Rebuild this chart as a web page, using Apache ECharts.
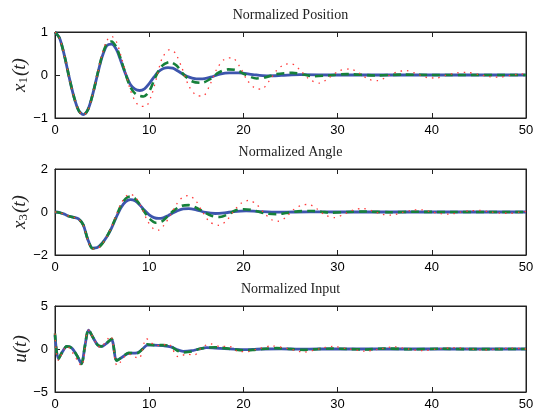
<!DOCTYPE html>
<html>
<head>
<meta charset="utf-8">
<script src="https://cdn.jsdelivr.net/npm/echarts@6/dist/echarts.min.js"></script>
<style>
  html, body { margin: 0; padding: 0; background: #fff; }
  #main { width: 534px; height: 416px; }
</style>
</head>
<body>
<div id="main"></div>
<script>
// panel titles and y labels
var titles = ['Normalized Position', 'Normalized Angle', 'Normalized Input'];
var yNames = [['x', '1'], ['x', '3'], ['u', '']];
var yRanges = [[-1, 1, 1], [-2, 2, 2], [-5, 5, 5]];
var xTicks = [0, 10, 20, 30, 40, 50];

// x1(t)
var blue1 = [[0,1],[0.5,0.85],[1,0.45],[1.5,-0.05],[2,-0.5],[2.5,-0.82],[3,-0.92],[3.5,-0.8],[4,-0.45],[4.5,0],[5,0.42],[5.5,0.68],[6,0.72],[6.5,0.6],[7,0.32],[7.5,0.02],[8,-0.22],[8.5,-0.33],[9,-0.36],[9.5,-0.32],[10,-0.2],[10.5,-0.05],[11,0.08],[11.5,0.15],[12,0.17],[12.5,0.16],[13,0.1],[14,-0.03],[15,-0.09],[15.5,-0.09],[16.5,-0.05],[17.5,0.02],[18.5,0.05],[19.5,0.05],[21,0.01],[22.5,-0.02],[24,-0.01],[26,0.01],[30,0],[50,0]];
var green1 = [[0,1],[0.5,0.85],[1,0.45],[1.5,-0.05],[2,-0.5],[2.5,-0.82],[3,-0.93],[3.5,-0.81],[4,-0.45],[4.5,0.01],[5,0.45],[5.5,0.72],[6,0.78],[6.5,0.65],[7,0.36],[7.5,0.02],[8,-0.28],[8.6,-0.45],[9.4,-0.5],[10,-0.38],[10.6,-0.08],[11.3,0.2],[12.2,0.3],[12.9,0.22],[13.7,0],[14.6,-0.15],[15.6,-0.18],[16.5,-0.09],[17.4,0.06],[18.4,0.13],[19.2,0.12],[20.2,0.01],[21.4,-0.08],[22.4,-0.05],[23.5,0.02],[25.2,0.05],[26.4,0.01],[27.5,-0.03],[29,-0.01],[31,0.02],[34,-0.01],[37,0.01],[40,0],[50,0]];
var red1 = [[0,1],[0.5,0.85],[1,0.45],[1.5,-0.05],[2,-0.5],[2.5,-0.82],[3,-0.93],[3.5,-0.82],[4,-0.45],[4.5,0.02],[5,0.48],[5.5,0.8],[6,0.9],[6.5,0.78],[7,0.45],[7.5,0.05],[8,-0.35],[8.5,-0.6],[9,-0.72],[9.6,-0.73],[10.2,-0.5],[10.8,-0.05],[11.4,0.4],[12.2,0.59],[12.8,0.5],[13.5,0.15],[14.2,-0.25],[15,-0.47],[15.7,-0.49],[16.4,-0.25],[17.2,0.15],[18,0.37],[18.8,0.4],[19.6,0.2],[20.4,-0.12],[21.2,-0.3],[21.9,-0.33],[22.7,-0.15],[23.5,0.1],[24.3,0.24],[25.1,0.26],[26,0.12],[27,-0.1],[28.1,-0.19],[29.1,-0.06],[30.2,0.1],[31.3,0.14],[32.4,0.03],[33.3,-0.1],[34.3,-0.13],[35.3,-0.03],[36.3,0.07],[37.3,0.1],[38.5,0.02],[39.5,-0.06],[40.5,-0.07],[41.6,0],[42.7,0.05],[43.7,0.06],[45,0.01],[46.1,-0.04],[47.2,-0.05],[48.5,0],[50,0.03]];

// x3(t)
var blue2 = [[0,0],[0.5,-0.03],[1,-0.1],[1.5,-0.2],[2,-0.25],[2.5,-0.32],[3,-0.6],[3.5,-1.3],[4,-1.68],[4.5,-1.65],[5,-1.45],[5.5,-1.15],[6,-0.75],[6.5,-0.25],[7,0.2],[7.5,0.48],[8,0.58],[8.5,0.52],[9,0.33],[9.5,0.08],[10,-0.13],[10.5,-0.26],[11,-0.3],[11.5,-0.27],[12,-0.17],[12.5,-0.05],[13,0.06],[13.6,0.14],[14.2,0.16],[15,0.1],[16,-0.02],[17,-0.07],[18,-0.04],[19,0.02],[20.3,0.05],[22,0.02],[24,-0.01],[27,0.01],[30,0],[50,0]];
var green2 = [[0,0],[0.5,-0.03],[1,-0.1],[1.5,-0.2],[2,-0.25],[2.5,-0.32],[3,-0.6],[3.5,-1.3],[4,-1.7],[4.5,-1.68],[5,-1.48],[5.5,-1.15],[6,-0.72],[6.5,-0.2],[7,0.3],[7.5,0.62],[8,0.72],[8.5,0.62],[9,0.35],[9.5,0],[10,-0.3],[10.7,-0.5],[11.4,-0.42],[12,-0.18],[12.7,0.1],[13.4,0.28],[14.2,0.32],[15,0.2],[15.8,0],[16.6,-0.17],[17.5,-0.23],[18.4,-0.1],[19.2,0.08],[20,0.13],[20.8,0.1],[21.7,0],[22.6,-0.08],[23.5,-0.1],[24.5,-0.05],[25.8,0.03],[27.2,0.05],[28.3,0.01],[29.3,-0.03],[31,0],[33,0.02],[35.5,-0.01],[38,0.01],[42,0],[50,0]];
var red2 = [[0,0],[0.5,-0.03],[1,-0.1],[1.5,-0.2],[2,-0.25],[2.5,-0.33],[3,-0.62],[3.5,-1.32],[4,-1.72],[4.5,-1.7],[5,-1.5],[5.5,-1.15],[6,-0.7],[6.5,-0.15],[7,0.38],[7.5,0.72],[8,0.83],[8.6,0.65],[9.2,0.2],[9.8,-0.4],[10.5,-0.8],[11,-0.84],[11.6,-0.6],[12.3,-0.1],[13,0.42],[13.6,0.7],[14.2,0.76],[14.9,0.55],[15.6,0.05],[16.4,-0.45],[17.4,-0.62],[18.2,-0.4],[19,0.05],[19.8,0.42],[20.6,0.54],[21.4,0.35],[22.2,-0.05],[23,-0.36],[23.7,-0.43],[24.5,-0.25],[25.3,0.1],[26.2,0.32],[26.9,0.35],[27.8,0.15],[28.7,-0.15],[29.7,-0.26],[30.7,-0.1],[31.7,0.1],[32.7,0.16],[33.7,0.05],[34.7,-0.1],[35.7,-0.15],[36.8,-0.03],[37.9,0.08],[38.9,0.1],[40,0],[41,-0.08],[41.9,-0.1],[43,-0.01],[44.1,0.06],[45.1,0.07],[46.2,0],[47.3,-0.05],[48.3,-0.06],[49.3,-0.01],[50,0.02]];

// u(t)
var blue3 = [[0,1.6],[0.35,-1.1],[0.8,-0.3],[1.25,0.3],[1.8,0.1],[2.4,-0.9],[2.8,-1.7],[3.2,0.5],[3.55,2.2],[4,1.4],[4.5,0.5],[4.9,0.3],[5.4,0.6],[6,1.1],[6.55,-1.3],[7.2,-0.9],[7.8,-0.5],[8.7,-0.45],[9.3,0],[9.8,0.45],[10.5,0.45],[11.5,0.38],[12.3,0.25],[13,-0.1],[13.6,-0.27],[14.5,-0.2],[15.3,0],[16.1,0.15],[17,0.1],[18,0.05],[19,-0.02],[20,-0.07],[21,-0.05],[22,0],[24,0.02],[26,-0.02],[28,0],[50,0]];
var green3 = [[0,1.8],[0.35,-1.2],[0.8,-0.3],[1.25,0.3],[1.8,0.1],[2.4,-0.9],[2.8,-1.75],[3.2,0.5],[3.55,2.25],[4,1.4],[4.5,0.5],[4.9,0.3],[5.4,0.6],[6,1.2],[6.55,-1.35],[7.2,-0.9],[7.8,-0.45],[8.7,-0.5],[9.3,0],[9.8,0.55],[10.5,0.45],[11.5,0.45],[12.3,0.3],[13,-0.2],[13.6,-0.4],[14.5,-0.3],[15.3,0],[16.1,0.15],[17,0.2],[18,0.1],[19,-0.05],[20,-0.15],[21,-0.1],[22,0],[23.5,0.1],[25,0],[26.5,-0.1],[28,0],[29.5,0.05],[31,0],[33,-0.05],[35,0.05],[38,-0.03],[41,0.03],[44,-0.02],[50,0]];
var red3 = [[0,1.8],[0.35,-1.3],[1.25,0.3],[2.8,-1.9],[3.55,2.2],[4.8,0.2],[5.9,1.5],[6.6,-1.9],[7.8,-0.6],[8.9,-1.1],[9.7,1.2],[10.5,0.5],[11.2,0.4],[12,0.6],[13.1,-0.9],[14,-0.6],[14.8,-0.7],[15.5,0.1],[16.5,0.6],[17.5,0.3],[18.5,0.3],[19.5,-0.3],[20.5,-0.3],[21.5,0],[23,0.35],[24.5,0.1],[26.5,-0.35],[28,0],[29.5,0.3],[31,0.05],[33,-0.25],[34.5,0],[36,0.25],[37.5,0],[39,-0.2],[40.5,0],[42.5,0.15],[44,0],[45.5,-0.12],[47,0],[48.5,0.1],[50,0]];

var panels = [[blue1, green1, red1], [blue2, green2, red2], [blue3, green3, red3]];

var gridTops = [32, 169, 306];
var gridH = 86;
var plotLeft = 55, plotW = 471;

var chart = echarts.init(document.getElementById('main'));

var grids = [], xAxes = [], yAxes = [], series = [], graphics = [];
var axisCol = '#222';
var tickFont = { color: '#000', fontSize: 13, fontFamily: 'Liberation Sans, Arial, sans-serif' };

function minus(v) { return String(v).replace('-', '\u2212'); }

for (var i = 0; i < 3; i++) {
  grids.push({ left: plotLeft, top: gridTops[i], width: plotW, height: gridH,
    containLabel: false, outerBoundsMode: 'none',
    show: true, borderColor: axisCol, borderWidth: 1, backgroundColor: '#fff' });

  // bottom axis with labels, top axis ticks only
  xAxes.push({ gridIndex: i, type: 'value', min: 0, max: 50, interval: 10, position: 'bottom',
    axisLine: { onZero: false, lineStyle: { color: axisCol } },
    axisTick: { inside: true, length: 5, lineStyle: { color: axisCol } },
    axisLabel: Object.assign({ margin: 6 }, tickFont),
    splitLine: { show: false } });
  xAxes.push({ gridIndex: i, type: 'value', min: 0, max: 50, interval: 10, position: 'top',
    axisLine: { show: true, onZero: false, lineStyle: { color: axisCol } },
    axisTick: { inside: true, length: 5, lineStyle: { color: axisCol } },
    axisLabel: { show: false }, splitLine: { show: false } });

  var r = yRanges[i];
  var nm = yNames[i];
  yAxes.push({ gridIndex: i, type: 'value', min: r[0], max: r[1], interval: r[2], position: 'left',
    axisLine: { show: true, onZero: false, lineStyle: { color: axisCol } },
    axisTick: { show: true, inside: true, length: 5, lineStyle: { color: axisCol } },
    axisLabel: Object.assign({ margin: 7, formatter: minus }, tickFont),
    splitLine: { show: false },
    name: nm[1] ? '{i|' + nm[0] + '}{s|' + nm[1] + '}{i|(t)}' : '{i|' + nm[0] + '}{i|(t)}',
    nameLocation: 'middle', nameRotate: 90, nameGap: 25, nameMoveOverlap: false,
    nameTextStyle: { rich: {
      i: { fontFamily: 'Liberation Serif, Times New Roman, serif', fontStyle: 'italic', fontSize: 19, color: '#222' },
      s: { fontFamily: 'Liberation Serif, Times New Roman, serif', fontSize: 13, color: '#222', verticalAlign: 'bottom', padding: [8, 1, 0, 0] }
    } } });
  yAxes.push({ gridIndex: i, type: 'value', min: r[0], max: r[1], interval: r[2], position: 'right',
    axisLine: { show: true, onZero: false, lineStyle: { color: axisCol } },
    axisTick: { show: true, inside: true, length: 5, lineStyle: { color: axisCol } },
    axisLabel: { show: false }, splitLine: { show: false } });

  var p = panels[i];
  series.push({ type: 'line', xAxisIndex: 2 * i, yAxisIndex: 2 * i, data: p[0], smooth: 0.3,
    showSymbol: false, z: 2, lineStyle: { color: '#3d55ad', width: 2.8 } });
  series.push({ type: 'line', xAxisIndex: 2 * i, yAxisIndex: 2 * i, data: p[1], smooth: 0.3,
    showSymbol: false, z: 3, lineStyle: { color: '#16803a', width: 2.6, type: [8, 5] } });
  series.push({ type: 'line', xAxisIndex: 2 * i, yAxisIndex: 2 * i, data: p[2], smooth: 0.3,
    showSymbol: false, z: 4, lineStyle: { color: '#ff3b3b', width: 1.3, type: [1.5, 5] } });

  graphics.push({ type: 'text', x: plotLeft + plotW / 2, y: gridTops[i] - 17,
    style: { text: titles[i], align: 'center', verticalAlign: 'middle',
      fontFamily: 'Liberation Serif, Times New Roman, serif', fontSize: 14, fill: '#222' } });
}

chart.setOption({
  animation: false,
  grid: grids,
  xAxis: xAxes,
  yAxis: yAxes,
  series: series,
  graphic: graphics
});
</script>
</body>
</html>
